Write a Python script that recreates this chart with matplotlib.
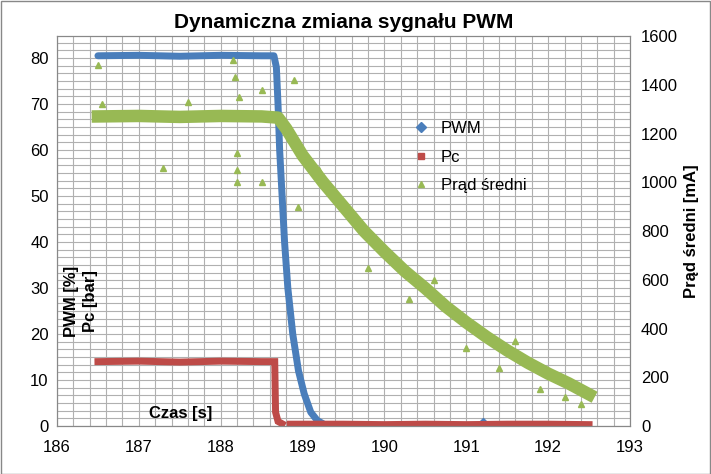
import numpy as np
import matplotlib.pyplot as plt
from matplotlib.ticker import MultipleLocator
from matplotlib.lines import Line2D

# PWM [%] vs time [s]
pwm_t = [186.5, 187.0, 187.5, 188.0, 188.5, 188.65, 188.68, 188.70, 188.72, 188.75,
         188.78, 188.82, 188.88, 188.95, 189.02, 189.10, 189.18, 189.25]
pwm_v = [80.5, 80.6, 80.4, 80.6, 80.5, 80.5, 78, 70, 60, 50,
         40, 30, 20, 12, 7, 3, 1.2, 0.5]
pwm_out_t = [191.2]
pwm_out_v = [0.8]

# Pc [bar]
pc_t = [186.5, 187.0, 187.5, 188.0, 188.5, 188.66, 188.67, 188.70, 188.75]
pc_v = [14.0, 14.1, 13.9, 14.1, 14.0, 14.0, 3.0, 1.0, 0.5]
pc2_t = [188.85, 189.5, 190.0, 190.5, 191.0, 191.5, 192.0, 192.5]
pc2_v = [0.4, 0.4, 0.3, 0.4, 0.3, 0.4, 0.4, 0.3]

# Prąd średni [mA]
i_t = [186.5, 187.0, 187.5, 188.0, 188.5, 188.7, 188.8, 189.0, 189.25, 189.5,
       189.75, 190.0, 190.25, 190.5, 190.75, 191.0, 191.25, 191.5, 191.75, 192.0,
       192.25, 192.5]
i_v = [1270, 1272, 1268, 1272, 1270, 1265, 1220, 1110, 1000, 900,
       800, 715, 635, 565, 490, 425, 365, 310, 260, 215,
       175, 130]
i_out_t = [186.5, 186.55, 187.3, 187.6, 188.15, 188.18, 188.2, 188.2, 188.2, 188.22,
           188.5, 188.5, 188.9, 188.95, 189.2, 189.8, 190.3, 190.6, 191.0, 191.4,
           191.6, 191.9, 192.2, 192.4]
i_out_v = [1480, 1320, 1060, 1330, 1500, 1430, 1000, 1050, 1120, 1350,
           1380, 1000, 1420, 900, 1050, 650, 520, 600, 320, 240,
           350, 150, 120, 90]

blue = "#4a7ebb"
red = "#be4b48"
green = "#98b954"

fig = plt.figure(figsize=(7.11, 4.74), dpi=100)
plt.rcParams["font.family"] = "Liberation Sans"
ax = fig.add_axes([57 / 711, 48 / 474, 573 / 711, 390 / 474])
ax2 = ax.twinx()

ax.set_xlim(186, 193)
ax.set_ylim(0, 84.8)
ax2.set_ylim(0, 1600)
ax.xaxis.set_major_locator(MultipleLocator(1))
ax.xaxis.set_minor_locator(MultipleLocator(0.2))
ax.yaxis.set_major_locator(MultipleLocator(10))
ax.yaxis.set_minor_locator(MultipleLocator(10 / 6))
ax2.yaxis.set_major_locator(MultipleLocator(200))
ax.grid(True, which="both", color="#b0b0b0", lw=0.8)
ax.set_axisbelow(True)
for a in (ax, ax2):
    a.tick_params(labelsize=12, length=0, which="both")
    for s in a.spines.values():
        s.set_color("#888888")
ax.tick_params(axis="x", pad=10)
ax.tick_params(axis="y", pad=6)
ax2.tick_params(axis="y", pad=8)

ax.plot(pwm_t, pwm_v, color=blue, lw=5, solid_capstyle="round")
ax.plot(pwm_out_t, pwm_out_v, "D", color=blue, ms=4)
ax.plot(pc_t, pc_v, color=red, lw=5, solid_joinstyle="miter")
ax.plot(pc2_t, pc2_v, color=red, lw=5)
ax2.plot(i_t, i_v, color=green, lw=9)
ax2.plot(i_out_t, i_out_v, "^", color=green, ms=4, ls="none")

ax.set_title("Dynamiczna zmiana sygnału PWM", fontsize=15, fontweight="bold")
ax.text(0.012, 0.32, "PWM [%]", rotation=90, fontsize=12, fontweight="bold",
        transform=ax.transAxes, va="center")
ax.text(0.045, 0.32, "Pc [bar]", rotation=90, fontsize=12, fontweight="bold",
        transform=ax.transAxes, va="center")
ax.text(0.16, 0.02, "Czas [s]", fontsize=12, fontweight="bold", transform=ax.transAxes)
ax2.set_ylabel("Prąd średni [mA]", fontsize=12, fontweight="bold", labelpad=4)

handles = [Line2D([], [], marker="D", color=blue, ls="none", ms=5),
           Line2D([], [], marker="s", color=red, ls="none", ms=5),
           Line2D([], [], marker="^", color=green, ls="none", ms=5)]
ax.legend(handles, ["PWM", "Pc", "Prąd średni"], loc="upper left",
          bbox_to_anchor=(0.58, 0.82), frameon=False, fontsize=12,
          handletextpad=0.2, labelspacing=0.8)

fig.patches.append(plt.Rectangle((0.001, 0.001), 0.997, 0.997, transform=fig.transFigure,
                                 fill=False, ec="#888888", lw=1))
fig.savefig("out.png", dpi=100)
